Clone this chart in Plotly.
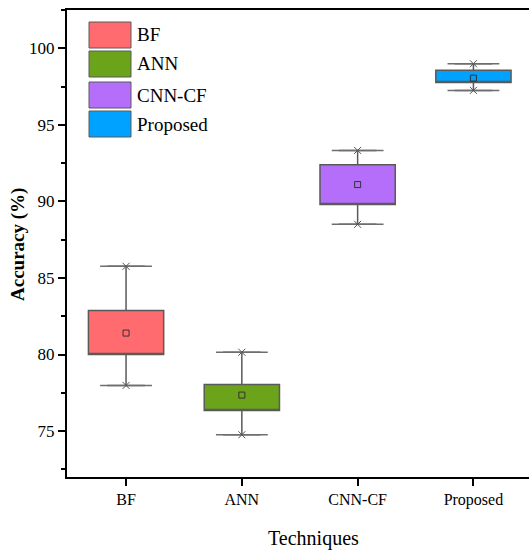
import plotly.graph_objects as go

categories = ["BF", "ANN", "CNN-CF", "Proposed"]
q1_vals = [80.0, 76.34, 89.8, 97.77]
q3_vals = [82.87, 78.04, 92.4, 98.57]
lower_whisker = [77.98, 74.76, 88.5, 97.25]
upper_whisker = [85.76, 80.15, 93.33, 98.99]
mean_vals = [81.4, 77.35, 91.1, 98.05]
fill_colors = ["#FF6B6E", "#6BA31A", "#B46EFA", "#00A2FF"]

FONT = "Liberation Serif"
fig = go.Figure()

for i, cat in enumerate(categories):
    fig.add_trace(go.Box(
        x=[i], q1=[q1_vals[i]], median=[q1_vals[i]], q3=[q3_vals[i]],
        lowerfence=[lower_whisker[i]], upperfence=[upper_whisker[i]],
        width=0.65, fillcolor=fill_colors[i],
        line=dict(color="#5a5a5a", width=1.5),
        name=cat, showlegend=False, hoverinfo="skip",
    ))
    # whisker caps
    fig.add_trace(go.Scatter(
        x=[i, i], y=[lower_whisker[i], upper_whisker[i]], mode="markers",
        marker=dict(symbol="line-ew", size=37, line=dict(color="#6e6e6e", width=1.5)),
        showlegend=False, hoverinfo="skip",
    ))
    fig.add_trace(go.Scatter(
        x=[i, i], y=[lower_whisker[i], upper_whisker[i]], mode="markers",
        marker=dict(symbol="x-thin", size=7, line=dict(color="#555555", width=1)),
        showlegend=False, hoverinfo="skip",
    ))
    # mean marker
    fig.add_trace(go.Scatter(
        x=[i], y=[mean_vals[i]], mode="markers",
        marker=dict(symbol="square-open", size=6, color="#333333", line=dict(width=1)),
        showlegend=False, hoverinfo="skip",
    ))

W, H = 529, 550
ml, mr, mt, mb = 67, 0, 10, 73
pw, ph = W - ml - mr, H - mt - mb

def px_to_paper(x, y):
    return (x - ml) / pw, 1 - (y - mt) / ph

# custom legend with large swatches
rows = [(22, 48), (51, 77), (82, 108), (111, 137)]
for (y0, y1), cat, col in zip(rows, categories, fill_colors):
    xa, ya = px_to_paper(89, y0)
    xb, yb = px_to_paper(131, y1)
    fig.add_shape(type="rect", xref="paper", yref="paper", x0=xa, x1=xb, y0=yb, y1=ya,
                  fillcolor=col, line=dict(color="#5a5a5a", width=1))
    tx, ty = px_to_paper(135, (y0 + y1) / 2)
    fig.add_annotation(xref="paper", yref="paper", x=tx, y=ty, text=cat, showarrow=False,
                       xanchor="left", yanchor="middle",
                       font=dict(family=FONT, size=19, color="black"))

# axis titles
tx, ty = px_to_paper(313, 538)
fig.add_annotation(xref="paper", yref="paper", x=tx, y=ty, text="Techniques", showarrow=False,
                   xanchor="center", yanchor="middle",
                   font=dict(family=FONT, size=20, color="black"))
tx, ty = px_to_paper(18, 245)
fig.add_annotation(xref="paper", yref="paper", x=tx, y=ty, text="<b>Accuracy (%)</b>",
                   showarrow=False, textangle=-90, xanchor="center", yanchor="middle",
                   font=dict(family=FONT, size=19, color="black"))

fig.update_layout(
    width=W, height=H,
    margin=dict(l=ml, r=mr, t=mt, b=mb, autoexpand=False),
    paper_bgcolor="white", plot_bgcolor="white",
    font=dict(family=FONT, color="black"),
    showlegend=False,
    xaxis=dict(
        range=[-0.51, 3.48], tickmode="array", tickvals=list(range(len(categories))),
        ticktext=categories, showline=True, linecolor="black", linewidth=2, mirror=True,
        ticks="outside", ticklen=7, tickwidth=2, tickcolor="black", showgrid=False,
        zeroline=False, tickfont=dict(family=FONT, size=16), automargin=False,
    ),
    yaxis=dict(
        range=[72, 102.5], tickvals=[75, 80, 85, 90, 95, 100],
        showline=True, linecolor="black", linewidth=2,
        ticks="outside", ticklen=7, tickwidth=2, tickcolor="black", showgrid=False,
        zeroline=False, tickfont=dict(family=FONT, size=17), automargin=False,
        minor=dict(dtick=2.5, ticks="outside", ticklen=4, tickwidth=2, tickcolor="black", showgrid=False),
    ),
)

fig.write_html(
    "out.html",
    config={"displayModeBar": False},
    post_script="document.body.style.margin='0px'; document.body.style.overflow='hidden';",
)
